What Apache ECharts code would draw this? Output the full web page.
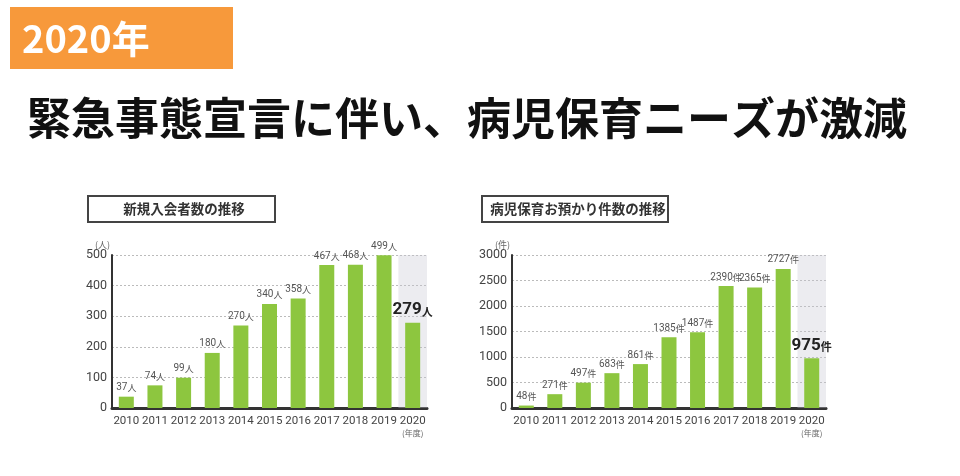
<!DOCTYPE html>
<html>
<head>
<meta charset="utf-8">
<script src="https://cdn.jsdelivr.net/npm/echarts@6/dist/echarts.min.js"></script>
<style>
html,body{margin:0;padding:0;background:#fff;}
#chart{width:960px;height:476px;}
</style>
</head>
<body>
<div id="chart"></div>
<script>
// ---- data ----
const years = ['2010','2011','2012','2013','2014','2015','2016','2017','2018','2019','2020'];
const members = [37, 74, 99, 180, 270, 340, 358, 467, 468, 499, 279];
const cases = [48, 271, 497, 683, 861, 1385, 1487, 2390, 2365, 2727, 975];
const leftTicks = { min: 0, max: 500, interval: 100 };
const rightTicks = { min: 0, max: 3000, interval: 500 };
const headerText = '2020年';
const mainTitle = '緊急事態宣言に伴い、病児保育ニーズが激減';
const leftTitle = '新規入会者数の推移';
const rightTitle = '病児保育お預かり件数の推移';
const leftUnit = '人';
const rightUnit = '件';

const NARROW = 'Roboto, sans-serif';
const JP = '"Noto Sans CJK JP", sans-serif';
const GREEN = '#8dc63f';

function highlightBg(values, max) {
  return values.map((v, i) => (i === values.length - 1 ? max : null));
}

function xAxisCfg(gridIndex) {
  return {
    type: 'category', gridIndex, data: years,
    axisLine: { show: true, lineStyle: { color: '#333', width: 3 } },
    axisTick: { show: false },
    axisLabel: {
      interval: 0, hideOverlap: false,
      color: '#444', fontSize: 11.5, fontFamily: NARROW, margin: 7,
      formatter: (v) => v === '2020' ? v + '\n{s|(年度)}' : v,
      rich: { s: { fontSize: 8, color: '#666', fontFamily: JP, lineHeight: 11 } }
    }
  };
}
function hiddenX(gridIndex) {
  return { type: 'category', gridIndex, data: years, show: false };
}
function yAxisCfg(gridIndex, ticks, unit) {
  return {
    type: 'value', gridIndex, min: ticks.min, max: ticks.max, interval: ticks.interval,
    name: '(' + unit + ')', nameLocation: 'end', nameGap: 4,
    nameTextStyle: { color: '#666', fontSize: 9, fontFamily: JP, align: 'right', padding: [0, 2, 0, 0] },
    axisLine: { show: true, lineStyle: { color: '#333', width: 2 } },
    axisTick: { show: false },
    axisLabel: { color: '#444', fontSize: 12.5, fontFamily: NARROW, margin: 5, formatter: (v) => String(v) },
    splitLine: { show: true, lineStyle: { color: '#bbb', type: [2, 2], width: 1 } }
  };
}
function mainSeries(xi, yi, data, unit) {
  return {
    type: 'bar', xAxisIndex: xi, yAxisIndex: yi, data, barWidth: 15,
    itemStyle: { color: GREEN }, z: 3,
    label: {
      show: true, position: 'top', distance: 4,
      formatter: (p) => p.dataIndex === data.length - 1
        ? '{b|' + p.value + '}{u|' + unit + '}'
        : '{a|' + p.value + '}{s|' + unit + '}',
      rich: {
        a: { fontSize: 10, color: '#555', fontFamily: NARROW },
        s: { fontSize: 9, color: '#555', fontFamily: JP },
        b: { fontSize: 17, color: '#222', fontWeight: 'bold', fontFamily: NARROW },
        u: { fontSize: 11, color: '#222', fontWeight: 'bold', fontFamily: JP, padding: [3, 0, 0, 0] }
      }
    }
  };
}
function bgSeries(xi, yi, data, max) {
  return {
    type: 'bar', xAxisIndex: xi, yAxisIndex: yi, data: highlightBg(data, max),
    barWidth: '100%', silent: true, z: 1,
    itemStyle: { color: 'rgba(200,200,212,0.35)' }
  };
}

const chart = echarts.init(document.getElementById('chart'), null, { renderer: 'canvas' });
chart.setOption({
  animation: false,
  backgroundColor: '#fff',
  grid: [
    { left: 112, right: 533, top: 255, bottom: 68 },
    { left: 512, right: 134, top: 255, bottom: 68 }
  ],
  xAxis: [xAxisCfg(0), xAxisCfg(1), hiddenX(0), hiddenX(1)],
  yAxis: [yAxisCfg(0, leftTicks, leftUnit), yAxisCfg(1, rightTicks, rightUnit)],
  series: [
    bgSeries(2, 0, members, leftTicks.max),
    bgSeries(3, 1, cases, rightTicks.max),
    mainSeries(0, 0, members, leftUnit),
    mainSeries(1, 1, cases, rightUnit)
  ],
  graphic: [
    { type: 'rect', shape: { x: 10, y: 7, width: 223, height: 62 }, style: { fill: '#f7993b' } },
    { type: 'text', x: 22, y: 39, style: { text: headerText, fill: '#fff', font: 'bold 38px ' + JP, textVerticalAlign: 'middle' } },
    { type: 'text', x: 27, y: 118, style: { text: mainTitle, fill: '#111', font: 'bold 44px ' + JP, textVerticalAlign: 'middle' } },
    { type: 'rect', shape: { x: 88, y: 196, width: 187, height: 26 }, style: { fill: '#fff', stroke: '#444', lineWidth: 2 } },
    { type: 'text', x: 184, y: 209, style: { text: leftTitle, fill: '#333', font: 'bold 13.5px ' + JP, textAlign: 'center', textVerticalAlign: 'middle' } },
    { type: 'rect', shape: { x: 482, y: 196, width: 186, height: 26 }, style: { fill: '#fff', stroke: '#444', lineWidth: 2 } },
    { type: 'text', x: 578, y: 209, style: { text: rightTitle, fill: '#333', font: 'bold 13.5px ' + JP, textAlign: 'center', textVerticalAlign: 'middle' } }
  ]
});
</script>
</body>
</html>
